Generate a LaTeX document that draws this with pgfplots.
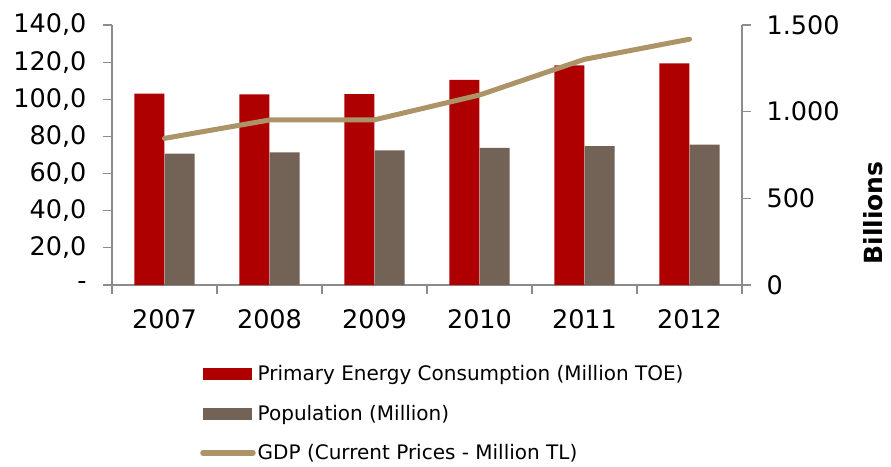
\documentclass[border=0pt]{standalone}
\usepackage{pgfplots}
\pgfplotsset{compat=1.18}
\usepackage{fontspec}
\setmainfont{DejaVu Sans}
\definecolor{pec}{HTML}{AE0000}
\definecolor{pop}{HTML}{736357}
\definecolor{gdp}{HTML}{AD9468}
\definecolor{axgray}{HTML}{8C8C8C}
\begin{document}
\begin{tikzpicture}
\pgfplotsset{
 every axis/.append style={
  width=630pt, height=260pt, scale only axis,
  xmin=-0.5, xmax=5.5,
  axis line style={axgray, line width=1.2pt},
  tick style={axgray, line width=1.2pt},
  tick align=outside,
  major tick length=9pt,
  ticklabel style={font=\fontsize{25.5}{30}\selectfont, text=black},
 }
}
\begin{axis}[name=main,
 axis x line*=bottom, axis y line*=left,
 ymin=0, ymax=140, ytick={0,20,...,140},
 yticklabels={-,{20,0},{40,0},{60,0},{80,0},{100,0},{120,0},{140,0}},
 yticklabel style={xshift=-13pt},
 xtick={-0.5,0.5,...,5.5}, xticklabels={2007,2008,2009,2010,2011,2012,{}},
 x tick label as interval,
 xticklabel style={yshift=-12pt},
]
\addplot[ybar, bar width=0.2857, bar shift=-0.1429, fill=pec, draw=none] coordinates {(0,103.0) (1,102.7) (2,102.8) (3,110.4) (4,118.3) (5,119.4)};
\addplot[ybar, bar width=0.2857, bar shift=0.1429, fill=pop, draw=none] coordinates {(0,70.7) (1,71.4) (2,72.5) (3,73.8) (4,74.8) (5,75.6)};
\end{axis}
\begin{axis}[
 axis x line=none, axis y line*=right,
 ymin=0, ymax=1500, ytick={0,500,1000,1500},
 yticklabels={0,500,{1.000},{1.500}},
 yticklabel style={xshift=12pt},
 ylabel={Billions},
 ylabel style={font=\fontsize{25}{30}\selectfont\bfseries, at={(axis description cs:1.208,0.277)}, anchor=center},
 legend style={at={(0.1397,-0.30)}, anchor=north west, draw=none, fill=none,
   font=\fontsize{20}{24}\selectfont, row sep=19pt, inner sep=0pt,
   nodes={inner sep=2pt}},
 legend cell align=left,
]
\addlegendimage{legend image code/.code={\fill[pec] (0pt,-5.5pt) rectangle (48pt,5.5pt);}}
\addlegendentry{Primary Energy Consumption (Million TOE)}
\addlegendimage{legend image code/.code={\fill[pop] (0pt,-5.5pt) rectangle (48pt,5.5pt);}}
\addlegendentry{Population (Million)}
\addplot[gdp, line width=5pt, line cap=round, line join=round,
  legend image code/.code={\draw[gdp, line width=5.5pt, line cap=round] (0pt,0pt) -- (50pt,0pt);}]
  coordinates {(0,846) (1,952) (2,953) (3,1096) (4,1302) (5,1418)};
\addlegendentry{GDP (Current Prices - Million TL)}
\end{axis}
\path (main.south west) ++(-112pt,-181pt) rectangle ++(891pt,466pt);
\end{tikzpicture}
\end{document}
